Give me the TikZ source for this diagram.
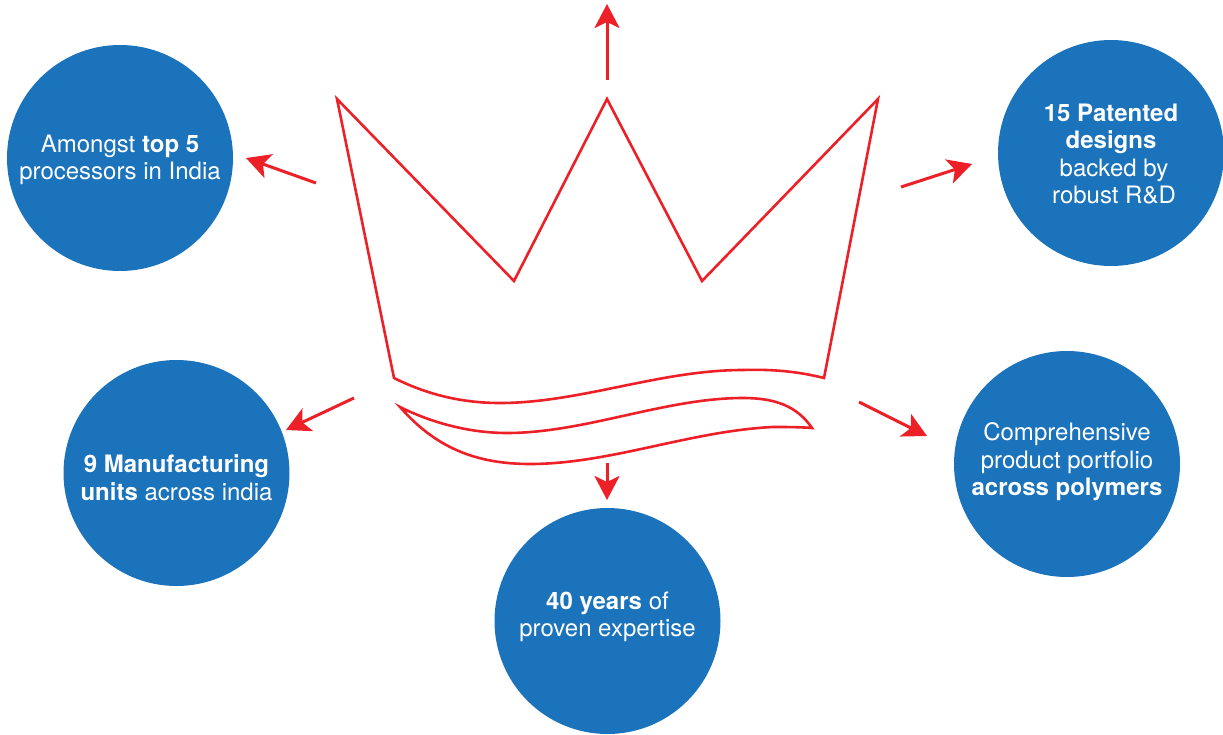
\documentclass[tikz,border=0pt]{standalone}
\usepackage{fontspec}
\setmainfont{TeX Gyre Heros}
\usetikzlibrary{arrows.meta}
\definecolor{discblue}{RGB}{27,115,188}
\definecolor{crownred}{RGB}{237,32,39}
\tikzset{
    disc/.style={circle,fill=discblue,draw=none,inner sep=0pt,minimum size=226pt},
    disctext/.style={text=white,align=center,inner sep=0pt,font=\fontsize{24}{27.6}\selectfont},
    crownline/.style={draw=crownred,line width=2.6pt,line join=miter},
    pointer/.style={draw=crownred,line width=3pt,-{Stealth[length=24pt,width=25pt,inset=6pt]}}
}
\begin{document}
\begin{tikzpicture}[x=1pt,y=-1pt]
        \useasboundingbox (0,0) rectangle (1223,735);

        \node[disc,label={[disctext,yshift=-2pt]center:Amongst \textbf{top 5}\\processors in India}] (top5) at (120,158) {};
        \node[disc,label={[disctext,yshift=-1pt]center:\textbf{15 Patented}\\\textbf{designs}\\\hspace*{6pt}backed by\\\hspace*{6pt}robust R\&D}] (patents) at (1111,153) {};
        \node[disc,label={[disctext,yshift=-5pt]center:\textbf{9 Manufacturing}\\\textbf{units} across india}] (units) at (176.5,473) {};
        \node[disc,label={[disctext,yshift=2pt]center:Comprehensive\\product portfolio\\\textbf{across polymers}}] (portfolio) at (1067,464) {};
        \node[disc,label={[disctext,yshift=4pt]center:\textbf{40 years} of\\proven expertise}] (years) at (607.5,621) {};

        % crown
        \draw[crownline] (394,378) -- (337,99) -- (514,281) -- (607,99) -- (702,281) -- (878,99) -- (824,378)
            .. controls (800,372) and (775,369) .. (743,370)
            .. controls (660,370) and (580,403) .. (500,403)
            .. controls (465,403) and (430,396) .. (394,378) -- cycle;
        % ribbon
        \draw[crownline] (400,407)
            .. controls (432,423) and (470,433) .. (507,433)
            .. controls (585,433) and (665,398) .. (743,398)
            .. controls (775,398) and (797,406) .. (812,428)
            .. controls (800,427) and (785,427) .. (773,427)
            .. controls (690,431) and (610,464) .. (530,464)
            .. controls (475,464) and (435,447) .. (400,407) -- cycle;

        \coordinate (a1) at (607,80);
        \coordinate (a2) at (607,4);
        \coordinate (b1) at (316,183);
        \coordinate (b2) at (246,158);
        \coordinate (c1) at (901,187);
        \coordinate (c2) at (972,164);
        \coordinate (d1) at (354,398);
        \coordinate (d2) at (286,430);
        \coordinate (e1) at (859,402);
        \coordinate (e2) at (927,436);
        \coordinate (f1) at (607,463);
        \coordinate (f2) at (607,500);

        \draw[pointer] (a1) -- (a2);
        \draw[pointer] (b1) -- (b2);
        \draw[pointer] (c1) -- (c2);
        \draw[pointer] (d1) -- (d2);
        \draw[pointer] (e1) -- (e2);
        \draw[pointer] (f1) -- (f2);
    \end{tikzpicture}
\end{document}
